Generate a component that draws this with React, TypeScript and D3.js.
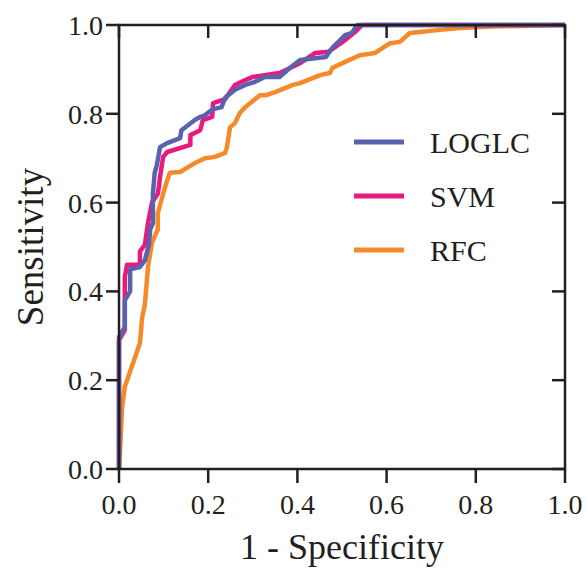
import React from "react";
import * as d3 from "d3";

const xTicks = [0, 0.2, 0.4, 0.6, 0.8, 1.0];
const yTicks = [0, 0.2, 0.4, 0.6, 0.8, 1.0];

const loglcFpr = [0, 0, 0.013, 0.013, 0.025, 0.025, 0.047, 0.058, 0.067, 0.07, 0.076, 0.076, 0.08, 0.085, 0.092, 0.108, 0.137, 0.14, 0.17, 0.182, 0.19, 0.21, 0.23, 0.238, 0.26, 0.283, 0.305, 0.327, 0.36, 0.383, 0.406, 0.464, 0.47, 0.48, 0.496, 0.507, 0.522, 0.529, 0.534, 1.0];
const loglcTpr = [0, 0.297, 0.32, 0.38, 0.4, 0.45, 0.455, 0.47, 0.505, 0.54, 0.554, 0.62, 0.667, 0.685, 0.725, 0.734, 0.745, 0.763, 0.786, 0.793, 0.795, 0.81, 0.815, 0.836, 0.854, 0.865, 0.872, 0.883, 0.883, 0.903, 0.921, 0.928, 0.937, 0.95, 0.966, 0.977, 0.982, 0.993, 1.0, 1.0];

const svmFpr = [0, 0, 0.013, 0.013, 0.018, 0.047, 0.047, 0.058, 0.065, 0.074, 0.087, 0.09, 0.092, 0.099, 0.108, 0.16, 0.16, 0.182, 0.188, 0.209, 0.211, 0.238, 0.26, 0.283, 0.3, 0.36, 0.406, 0.44, 0.47, 0.507, 0.529, 0.545, 1.0];
const svmTpr = [0, 0.29, 0.313, 0.432, 0.46, 0.46, 0.49, 0.505, 0.554, 0.6, 0.62, 0.64, 0.658, 0.703, 0.714, 0.73, 0.752, 0.763, 0.786, 0.793, 0.824, 0.833, 0.865, 0.876, 0.883, 0.892, 0.914, 0.937, 0.94, 0.966, 0.984, 1.0, 1.0];

const rfcFpr = [0, 0.002, 0.007, 0.013, 0.047, 0.052, 0.058, 0.065, 0.074, 0.087, 0.087, 0.099, 0.108, 0.114, 0.137, 0.155, 0.17, 0.193, 0.215, 0.238, 0.242, 0.249, 0.26, 0.271, 0.283, 0.316, 0.33, 0.35, 0.372, 0.39, 0.406, 0.451, 0.473, 0.478, 0.507, 0.54, 0.574, 0.608, 0.63, 0.652, 0.72, 0.765, 0.85, 1.0];
const rfcTpr = [0, 0.036, 0.14, 0.185, 0.284, 0.342, 0.37, 0.455, 0.51, 0.54, 0.576, 0.62, 0.65, 0.667, 0.669, 0.68, 0.689, 0.7, 0.703, 0.712, 0.725, 0.77, 0.779, 0.802, 0.815, 0.842, 0.842, 0.849, 0.858, 0.865, 0.869, 0.887, 0.892, 0.903, 0.917, 0.932, 0.937, 0.959, 0.962, 0.982, 0.989, 0.993, 0.997, 1.0];

const seriesNames = ["LOGLC", "SVM", "RFC"];
const seriesColors = ["#5a62ad", "#e8197f", "#f58a2a"];

export default function App() {
  const W = 587, H = 569;
  const x = d3.scaleLinear().domain([0, 1]).range([119, 565]);
  const y = d3.scaleLinear().domain([0, 1]).range([469, 25]);
  const line = d3.line<[number, number]>().x(d => x(d[0])).y(d => y(d[1]));
  const series = [
    { fpr: loglcFpr, tpr: loglcTpr },
    { fpr: svmFpr, tpr: svmTpr },
    { fpr: rfcFpr, tpr: rfcTpr },
  ];
  const order = [2, 1, 0];
  const font = "'Liberation Serif', 'Times New Roman', serif";
  const axisColor = "#231f20";
  return (
    <svg width={W} height={H} style={{ position: "absolute", left: 0, top: 0 }} fontFamily={font}>
      <rect width={W} height={H} fill="#fff" />
      {order.map(i => (
        <path key={i}
          d={line(series[i].fpr.map((f, k) => [f, series[i].tpr[k]] as [number, number])) || ""}
          fill="none" stroke={seriesColors[i]} strokeWidth={4.5} strokeLinejoin="round" />
      ))}
      <rect x={x(0)} y={y(1)} width={x(1) - x(0)} height={y(0) - y(1)} fill="none" stroke={axisColor} strokeWidth={2.5} />
      {xTicks.map(t => (
        <g key={"x" + t}>
          <line x1={x(t)} x2={x(t)} y1={y(0)} y2={y(0) + 14} stroke={axisColor} strokeWidth={2.5} />
          <line x1={x(t)} x2={x(t)} y1={y(1)} y2={y(1) + 13} stroke={axisColor} strokeWidth={2.5} />
          <text x={x(t)} y={514} fontSize={28} textAnchor="middle" fill="#231f20">{t.toFixed(1)}</text>
        </g>
      ))}
      {yTicks.map(t => (
        <g key={"y" + t}>
          <line x1={x(0) - 13} x2={x(0)} y1={y(t)} y2={y(t)} stroke={axisColor} strokeWidth={2.5} />
          <line x1={x(1) - 13} x2={x(1)} y1={y(t)} y2={y(t)} stroke={axisColor} strokeWidth={2.5} />
          <text x={103} y={y(t) + 10} fontSize={28} textAnchor="end" fill="#231f20">{t.toFixed(1)}</text>
        </g>
      ))}
      <text x={(x(0) + x(1)) / 2} y={559} fontSize={36} textAnchor="middle" fill="#231f20">1 - Specificity</text>
      <text transform={`translate(43, ${(y(0) + y(1)) / 2}) rotate(-90)`} fontSize={37} textAnchor="middle" fill="#231f20">Sensitivity</text>
      {seriesNames.map((n, i) => (
        <g key={n}>
          <line x1={354} x2={404} y1={142 + i * 54} y2={142 + i * 54} stroke={seriesColors[i]} strokeWidth={5} />
          <text x={430} y={153 + i * 54} fontSize={30} fill="#231f20">{n}</text>
        </g>
      ))}
    </svg>
  );
}
